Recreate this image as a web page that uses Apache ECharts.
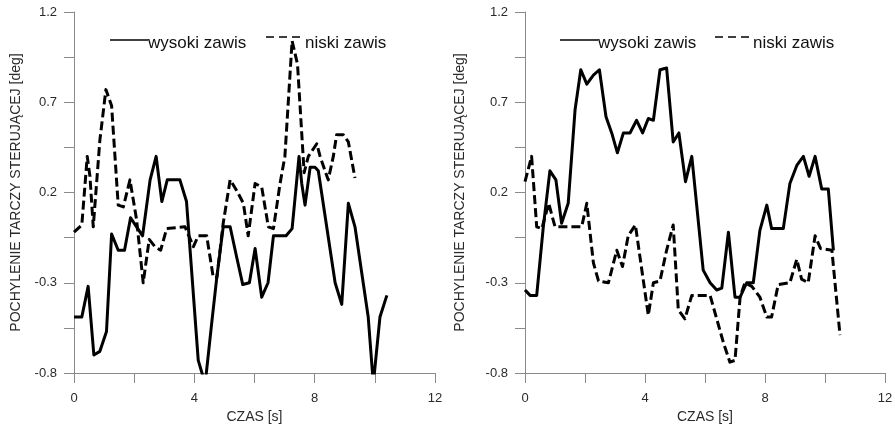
<!DOCTYPE html>
<html>
<head>
<meta charset="utf-8">
<script src="https://cdn.jsdelivr.net/npm/echarts@6/dist/echarts.min.js"></script>
<style>
  html, body { margin: 0; padding: 0; background: #fff; }
  #chart { width: 895px; height: 424px; }
</style>
</head>
<body>
<div id="chart"></div>
<script>
// Pochylenie tarczy sterującej w czasie – dwa przebiegi, wysoki i niski zawis.

var seriesNames = ['wysoki zawis', 'niski zawis'];
var yTicks = [-0.8, -0.3, 0.2, 0.7, 1.2];
var xTicks = [0, 4, 8, 12];

// Wykres lewy – wysoki zawis
var leftHighT = [0, 0.26, 0.47, 0.66, 0.86, 1.08, 1.25, 1.47, 1.68, 1.88, 2.08, 2.28, 2.53, 2.73, 2.92, 3.10, 3.52, 3.74, 4.13, 4.36, 4.58, 4.74, 4.96, 5.19, 5.41, 5.61, 5.83, 6.02, 6.24, 6.45, 6.63, 7.05, 7.25, 7.48, 7.57, 7.68, 7.85, 8.01, 8.12, 8.68, 8.90, 9.12, 9.34, 9.78, 9.95, 10.17, 10.40];
var leftHighV = [-0.49, -0.49, -0.32, -0.70, -0.68, -0.57, -0.03, -0.12, -0.12, 0.06, 0.01, -0.04, 0.27, 0.40, 0.15, 0.27, 0.27, 0.15, -0.73, -0.86, -0.52, -0.28, 0.01, 0.01, -0.16, -0.31, -0.30, -0.11, -0.38, -0.30, -0.04, -0.04, 0.00, 0.40, 0.25, 0.13, 0.34, 0.34, 0.32, -0.30, -0.42, 0.14, 0.01, -0.49, -0.86, -0.49, -0.37];

// Wykres lewy – niski zawis
var leftLowT = [0, 0.26, 0.44, 0.53, 0.64, 0.86, 1.06, 1.25, 1.47, 1.64, 1.86, 2.08, 2.30, 2.50, 2.69, 2.88, 3.08, 3.69, 3.97, 4.13, 4.41, 4.63, 4.75, 4.96, 5.19, 5.41, 5.63, 5.79, 6.02, 6.24, 6.46, 6.63, 6.85, 7.01, 7.25, 7.43, 7.65, 7.79, 8.07, 8.18, 8.45, 8.62, 8.73, 8.95, 9.12, 9.34];
var leftLowV = [-0.02, 0.02, 0.40, 0.29, 0.01, 0.49, 0.77, 0.68, 0.13, 0.12, 0.27, 0.05, -0.30, -0.06, -0.10, -0.12, 0.00, 0.01, -0.10, -0.04, -0.04, -0.27, -0.27, 0.03, 0.27, 0.21, 0.14, -0.04, 0.25, 0.23, 0.01, 0.00, 0.25, 0.40, 1.04, 0.91, 0.31, 0.40, 0.47, 0.40, 0.27, 0.40, 0.52, 0.52, 0.48, 0.28];

// Wykres prawy – wysoki zawis
var rightHighT = [0, 0.17, 0.39, 0.61, 0.83, 1.03, 1.22, 1.44, 1.67, 1.86, 2.06, 2.28, 2.48, 2.70, 2.89, 3.08, 3.28, 3.50, 3.72, 3.92, 4.11, 4.28, 4.50, 4.72, 4.94, 5.13, 5.35, 5.56, 5.94, 6.17, 6.39, 6.56, 6.78, 7.00, 7.17, 7.39, 7.61, 7.83, 8.06, 8.22, 8.61, 8.83, 9.06, 9.28, 9.47, 9.67, 9.89, 10.11, 10.28];
var rightHighV = [-0.34, -0.37, -0.37, 0.01, 0.32, 0.27, 0.03, 0.14, 0.66, 0.88, 0.80, 0.85, 0.88, 0.62, 0.53, 0.42, 0.53, 0.53, 0.60, 0.53, 0.61, 0.60, 0.88, 0.89, 0.48, 0.53, 0.26, 0.40, -0.23, -0.30, -0.34, -0.33, -0.02, -0.38, -0.38, -0.30, -0.30, -0.01, 0.13, 0.00, 0.00, 0.25, 0.35, 0.40, 0.29, 0.40, 0.22, 0.22, -0.12];

// Wykres prawy – niski zawis
var rightLowT = [0, 0.22, 0.39, 0.56, 0.79, 1.00, 1.89, 2.06, 2.28, 2.45, 2.78, 3.06, 3.25, 3.44, 3.68, 4.11, 4.28, 4.50, 4.72, 4.94, 5.11, 5.33, 5.56, 6.17, 6.39, 6.61, 6.83, 7.00, 7.17, 7.33, 7.56, 7.83, 8.06, 8.22, 8.44, 8.83, 9.06, 9.22, 9.44, 9.67, 9.85, 10.23, 10.50];
var rightLowV = [0.26, 0.40, 0.01, 0.00, 0.14, 0.01, 0.01, 0.14, -0.19, -0.29, -0.30, -0.12, -0.21, -0.04, 0.02, -0.48, -0.30, -0.29, -0.12, 0.02, -0.45, -0.50, -0.37, -0.37, -0.50, -0.63, -0.74, -0.73, -0.38, -0.30, -0.32, -0.38, -0.49, -0.49, -0.31, -0.30, -0.17, -0.28, -0.30, -0.04, -0.11, -0.12, -0.59];

function pairs(t, v) {
  return t.map(function (x, i) { return [x, v[i]]; });
}

var axisGrey = '#8a8a8a';
var labelColor = '#2a2a2a';
var fontFamily = 'Arial, "Liberation Sans", sans-serif';

// Znaczniki co pół kroku etykiet; etykiety tylko przy wartościach z listy
function isLabelled(list, v) {
  return list.some(function (t) { return Math.abs(t - v) < 1e-6; });
}

function xAxisFor(gridIndex) {
  var step = (xTicks[1] - xTicks[0]) / 2;
  return {
    type: 'value', gridIndex: gridIndex,
    min: xTicks[0], max: xTicks[xTicks.length - 1], interval: step,
    name: 'CZAS [s]', nameLocation: 'middle', nameGap: 27,
    nameTextStyle: { color: labelColor, fontSize: 14, fontFamily: fontFamily },
    axisLine: { onZero: false, lineStyle: { color: axisGrey, width: 1 } },
    axisTick: { length: 10, lineStyle: { color: axisGrey } },
    splitLine: { show: false },
    axisLabel: {
      color: labelColor, fontSize: 13, fontFamily: fontFamily, margin: 19,
      formatter: function (v) { return isLabelled(xTicks, v) ? String(Math.round(v)) : ''; }
    }
  };
}

function yAxisFor(gridIndex, nameGap) {
  var step = (yTicks[1] - yTicks[0]) / 2;
  return {
    type: 'value', gridIndex: gridIndex,
    min: yTicks[0], max: yTicks[yTicks.length - 1], interval: step,
    name: 'POCHYLENIE TARCZY STERUJĄCEJ [deg]', nameLocation: 'middle', nameGap: nameGap,
    nameTextStyle: { color: labelColor, fontSize: 14, fontFamily: fontFamily },
    axisLine: { show: true, onZero: false, lineStyle: { color: axisGrey, width: 1 } },
    axisTick: { show: true, length: 10, lineStyle: { color: axisGrey } },
    splitLine: { show: false },
    axisLabel: {
      color: labelColor, fontSize: 13, fontFamily: fontFamily, margin: 17,
      formatter: function (v) { return isLabelled(yTicks, v) ? (Math.round(v * 10) / 10).toFixed(1) : ''; }
    }
  };
}

function lineSeries(name, xi, data, dashed) {
  return {
    name: name, type: 'line', xAxisIndex: xi, yAxisIndex: xi,
    data: data, showSymbol: false, symbol: 'none', animation: false,
    lineStyle: { color: '#000', width: 3, type: dashed ? [9, 4] : 'solid', join: 'round' }
  };
}

// Legenda: krótka kreska przy linii bazowej napisu
function legendBlock(x0, solidY, dashY, textX1, textX2, baseY) {
  var items = [];
  items.push({ type: 'line', shape: { x1: x0.solid[0], y1: solidY, x2: x0.solid[1], y2: solidY },
    style: { stroke: '#000', lineWidth: 1.5 } });
  items.push({ type: 'text', x: textX1, y: baseY,
    style: { text: seriesNames[0], fill: '#111', font: '17px ' + fontFamily, textVerticalAlign: 'alphabetic', textAlign: 'left' } });
  items.push({ type: 'line', shape: { x1: x0.dash[0], y1: dashY, x2: x0.dash[1], y2: dashY },
    style: { stroke: '#000', lineWidth: 1.5, lineDash: [8, 5] } });
  items.push({ type: 'text', x: textX2, y: baseY,
    style: { text: seriesNames[1], fill: '#111', font: '17px ' + fontFamily, textVerticalAlign: 'alphabetic', textAlign: 'left' } });
  return items;
}

var chart = echarts.init(document.getElementById('chart'), null, { renderer: 'canvas' });

chart.setOption({
  animation: false,
  backgroundColor: '#fff',
  grid: [
    { left: 74, right: 460, top: 12, bottom: 51, containLabel: false, outerBoundsMode: 'none' },
    { left: 525, right: 10, top: 12, bottom: 51, containLabel: false, outerBoundsMode: 'none' }
  ],
  xAxis: [xAxisFor(0), xAxisFor(1)],
  yAxis: [yAxisFor(0, 51), yAxisFor(1, 58)],
  series: [
    lineSeries(seriesNames[0], 0, pairs(leftHighT, leftHighV), false),
    lineSeries(seriesNames[1], 0, pairs(leftLowT, leftLowV), true),
    lineSeries(seriesNames[0], 1, pairs(rightHighT, rightHighV), false),
    lineSeries(seriesNames[1], 1, pairs(rightLowT, rightLowV), true)
  ],
  graphic: [].concat(
    legendBlock({ solid: [110, 148], dash: [266, 304] }, 40, 37, 148, 305, 35),
    legendBlock({ solid: [560, 598], dash: [715, 753] }, 40, 37, 598, 753, 35)
  )
});
</script>
</body>
</html>
